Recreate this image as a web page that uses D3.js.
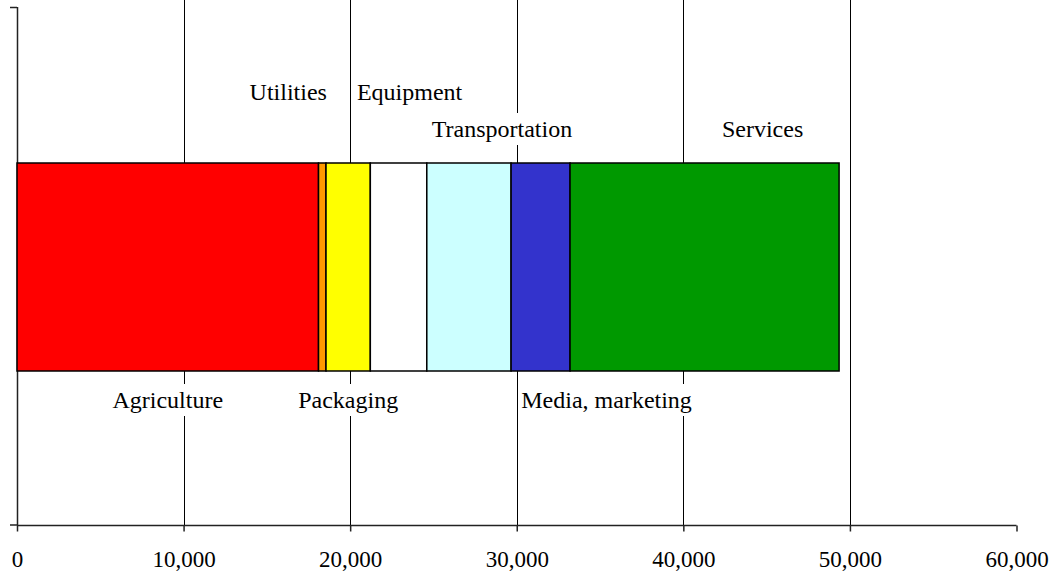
<!DOCTYPE html>
<html>
<head>
<meta charset="utf-8">
<script src="https://cdn.jsdelivr.net/npm/d3@7"></script>
<style>
  body { margin: 0; background: #fff; }
  text { font-family: "Liberation Serif", "Times New Roman", serif; font-size: 24px; fill: #000; }
</style>
</head>
<body>
<script>
// cost breakdown, stacked left to right
var categories = ["Agriculture", "Utilities", "Packaging", "Equipment",
                  "Transportation", "Media, marketing", "Services"];
var values = [18100, 450, 2660, 3390, 5060, 3540, 16150];
var xTicks = [0, 10000, 20000, 30000, 40000, 50000, 60000];

var colors = ["#ff0000", "#ff9900", "#ffff00", "#ffffff", "#ccffff", "#3333cc", "#009900"];
// labels were dragged around in the original: row + nudge from segment centre
var labelLayout = [
    {row: "below", dx: 0},
    {row: "top", dx: -34},
    {row: "below", dx: 0},
    {row: "top", dx: 11},
    {row: "mid", dx: 33},
    {row: "below", dx: 66},
    {row: "mid", dx: 58}
];

var width = 1056, height = 573;
var margins = {top: 7, left: 17, right: 40, bottom: 48};

var svg = d3.select("body").append("svg")
        .attr("width", width)
        .attr("height", height);

var x = d3.scaleLinear()
        .domain([0, 60000])
        .range([margins.left, 1016.5]);

var axisY = height - margins.bottom;

var y = d3.scaleBand()
        .domain(["total"])
        .range([margins.top + 1, axisY + 1])
        .padding(0.427);

// stack
var stacked = [];
var acc = 0;
values.forEach(function (v, i) {
    stacked.push({name: categories[i], x0: acc, x1: acc + v, color: colors[i], layout: labelLayout[i]});
    acc += v;
});

// grid lines
svg.append("g").attr("class", "grid")
    .selectAll("line")
    .data(xTicks.filter(function (t) { return t > 0 && t < 60000; }))
    .enter().append("line")
    .attr("x1", function (d) { return Math.round(x(d)) + 0.5; })
    .attr("x2", function (d) { return Math.round(x(d)) + 0.5; })
    .attr("y1", 0)
    .attr("y2", axisY)
    .style("stroke", "#000")
    .style("stroke-width", 1);

// x axis
var xAxis = d3.axisBottom(x)
        .tickValues(xTicks)
        .tickSize(6)
        .tickPadding(19)
        .tickFormat(d3.format(","));

var xg = svg.append("g")
        .attr("transform", "translate(0," + (axisY + 0.5) + ")")
        .call(xAxis);
xg.select(".domain").attr("d", "M" + x(0) + ",0H" + x(60000)).style("stroke", "#222").style("stroke-width", 1.5);
xg.selectAll(".tick line").style("stroke", "#222").style("stroke-width", 1.5);
xg.selectAll(".tick text")
    .style("font-family", "Liberation Serif, serif")
    .style("font-size", "23px")
    .attr("fill", "#000");

// y axis, just the frame line with two edge ticks
var yg = svg.append("g");
yg.append("line")
    .attr("x1", margins.left + 0.5).attr("x2", margins.left + 0.5)
    .attr("y1", margins.top).attr("y2", axisY)
    .style("stroke", "#222").style("stroke-width", 1.5);
[margins.top + 0.5, axisY].forEach(function (ty) {
    yg.append("line")
        .attr("x1", margins.left - 7).attr("x2", margins.left)
        .attr("y1", ty).attr("y2", ty)
        .style("stroke", "#222").style("stroke-width", 1.5);
});

// bar segments
svg.append("g").attr("class", "body")
    .selectAll("rect")
    .data(stacked)
    .enter().append("rect")
    .attr("x", function (d) { return x(d.x0); })
    .attr("y", y("total"))
    .attr("width", function (d) { return x(d.x1) - x(d.x0); })
    .attr("height", y.bandwidth())
    .style("fill", function (d) { return d.color; })
    .style("stroke", "#000")
    .style("stroke-width", 1.5);

// labels with white boxes that knock out the grid
var rowY = {top: 100, mid: 137, below: 408};
var labels = svg.append("g").attr("class", "labels")
    .selectAll("g")
    .data(stacked)
    .enter().append("g")
    .attr("transform", function (d) {
        var cx = (x(d.x0) + x(d.x1)) / 2 + d.layout.dx;
        return "translate(" + cx + "," + rowY[d.layout.row] + ")";
    });

labels.append("text")
    .attr("text-anchor", "middle")
    .text(function (d) { return d.name; });

labels.each(function () {
    var g = d3.select(this);
    var bb = g.select("text").node().getBBox();
    g.insert("rect", "text")
        .attr("x", bb.x + 1)
        .attr("y", bb.y - 3)
        .attr("width", bb.width - 2)
        .attr("height", bb.height + 6)
        .style("fill", "#fff");
});
</script>
</body>
</html>
